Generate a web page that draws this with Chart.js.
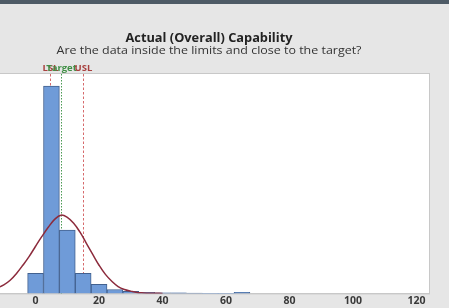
<!DOCTYPE html>
<html>
<head>
<meta charset="utf-8">
<script src="https://cdn.jsdelivr.net/npm/chart.js@4"></script>
<style>
  html, body { margin: 0; padding: 0; background: #e6e6e6; }
  #wrap { width: 449px; height: 308px; }
</style>
</head>
<body>
<div id="wrap"><canvas id="cap" width="449" height="308"></canvas></div>
<script>
// histogram bins (center of each 5-wide bin) and their share in %
let binCenters = [0, 5, 10, 15, 20, 25, 30, 35, 40, 45, 50, 55, 60, 65];
let binFreq    = [6.1, 63.3, 19.3, 6.1, 2.8, 1.2, 0.6, 0.3, 0.2, 0.15, 0.1, 0, 0, 0.3];

// fitted curve
let curveX = [-12, -10, -8, -6, -4, -2, 0, 2, 4, 6, 8, 10, 12, 14, 16, 18, 20, 22, 24, 26, 28, 30, 32, 34, 36, 38, 40];
let curveY = [1.7, 2.6, 4.0, 6.1, 8.6, 11.3, 14.4, 17.4, 20.2, 22.6, 23.9, 23.2, 21.4, 18.7, 15.3, 11.9, 8.6, 5.8, 3.7, 2.1, 1.2, 0.7, 0.3, 0.15, 0.06, 0.03, 0];

// spec limits
let specNames  = ['LSL', 'Target', 'USL'];
let specValues = [4.4, 8, 15];
let specLabelColors = ['#a8413f', '#3f8f45', '#a8413f'];
let specLineColors  = ['#d66a6c', '#4c9a55', '#d66a6c'];

let xTicks = [0, 20, 40, 60, 80, 100, 120];

const FONT = "'Open Sans', 'Noto Sans', sans-serif";

// the original font is wider than Open Sans, so stretch to the measured width
function wideText(ctx, text, x, y, width) {
    let m = ctx.measureText(text).width;
    ctx.save();
    ctx.translate(x, y);
    ctx.scale(width / m, 1);
    ctx.fillText(text, 0, 0);
    ctx.restore();
}

// background, dark band, plot area, titles and spec lines
const frame = {
    id: 'frame',
    beforeDraw(chart) {
        const ctx = chart.ctx;
        const a = chart.chartArea;
        ctx.save();
        ctx.fillStyle = '#e6e6e6';
        ctx.fillRect(0, 0, chart.width, chart.height);
        ctx.fillStyle = '#4e5b66';
        ctx.fillRect(0, 0, chart.width, 4);
        ctx.fillStyle = '#ffffff';
        ctx.fillRect(a.left, a.top, a.right - a.left, a.bottom - a.top);
        ctx.strokeStyle = '#c8c8c8';
        ctx.lineWidth = 1;
        ctx.strokeRect(a.left - 0.5, a.top - 0.5, a.right - a.left + 1, a.bottom - a.top + 1);

        ctx.textAlign = 'center';
        ctx.textBaseline = 'alphabetic';
        ctx.fillStyle = '#222';
        ctx.font = "bold 12px " + FONT;
        wideText(ctx, 'Actual (Overall) Capability', 209, 41.5, 167);
        ctx.fillStyle = '#333';
        ctx.font = "11px " + FONT;
        wideText(ctx, 'Are the data inside the limits and close to the target?', 209, 54, 305);
        ctx.restore();
    },
    beforeDatasetsDraw(chart) {
        const ctx = chart.ctx;
        const a = chart.chartArea;
        const xs = chart.scales.x;
        ctx.save();
        for (let i = 0; i < specValues.length; i++) {
            let px = Math.round(xs.getPixelForValue(specValues[i])) + 0.5;
            ctx.strokeStyle = specLineColors[i];
            ctx.lineWidth = 1;
            ctx.setLineDash(i === 1 ? [1.5, 1.5] : [2.5, 2]);
            ctx.beginPath();
            ctx.moveTo(px, a.top);
            ctx.lineTo(px, a.bottom);
            ctx.stroke();
            ctx.setLineDash([]);
            ctx.fillStyle = specLabelColors[i];
            ctx.font = "bold 9.5px " + FONT;
            ctx.textAlign = 'center';
            ctx.textBaseline = 'middle';
            ctx.fillText(specNames[i], px, 68);
        }
        ctx.restore();
    }
};

new Chart(document.getElementById('cap'), {
    type: 'bar',
    data: {
        datasets: [{
            type: 'line',
            data: curveX.map((x, i) => ({ x: x, y: curveY[i] })),
            borderColor: '#8c2b3c',
            borderWidth: 1.5,
            pointRadius: 0,
            tension: 0.4,
            fill: false,
            order: 0
        }, {
            data: binCenters.map((x, i) => ({ x: x, y: binFreq[i] })),
            backgroundColor: '#6f9bd8',
            borderColor: '#42618f',
            borderWidth: (c) => (binFreq[c.dataIndex] > 0 ? 1 : 0),
            barPercentage: 1,
            categoryPercentage: 1,
            order: 1
        }]
    },
    options: {
        responsive: false,
        animation: false,
        layout: { padding: { top: 74, right: 20, bottom: 0, left: 0 } },
        plugins: {
            legend: { display: false },
            tooltip: { enabled: false },
            title: { display: false }
        },
        scales: {
            x: {
                type: 'linear',
                offset: false,
                min: -11.2,
                max: 123.9,
                afterBuildTicks: (s) => { s.ticks = xTicks.map(v => ({ value: v })); },
                grid: { display: false, drawTicks: false },
                border: { display: true, color: '#c8c8c8' },
                ticks: {
                    padding: 1,
                    color: '#3a3a3a',
                    font: { family: FONT, size: 10.5, weight: 'bold' }
                }
            },
            y: {
                display: false,
                min: 0,
                max: 67
            }
        }
    },
    plugins: [frame]
});
</script>
</body>
</html>
